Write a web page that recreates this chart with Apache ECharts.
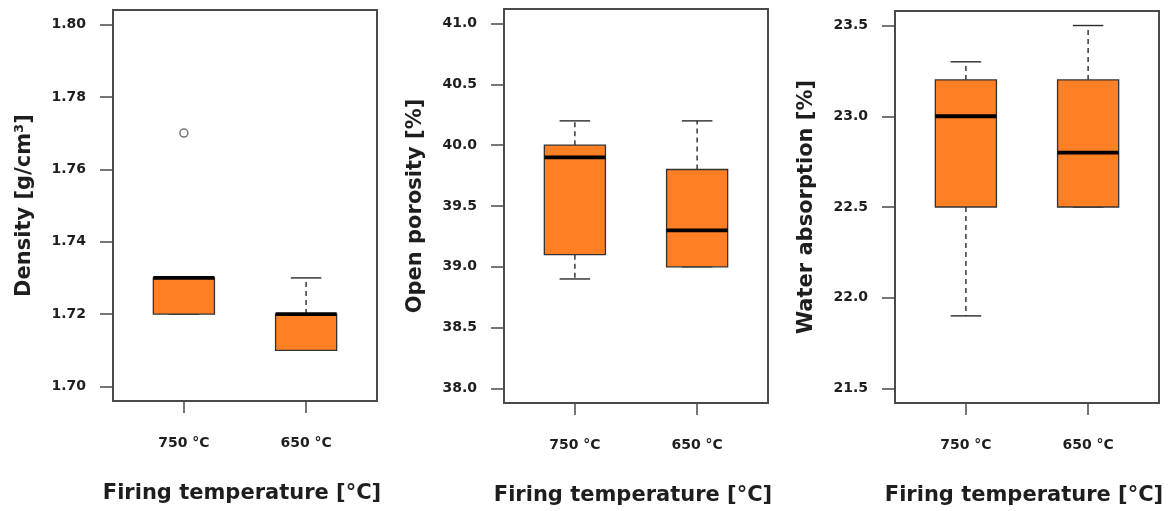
<!DOCTYPE html>
<html lang="en">
<head>
    <meta http-equiv="Content-Type" content="text/html; charset=UTF-8">
    <title>Firing temperature boxplots</title>
    <script src="https://cdn.jsdelivr.net/npm/echarts@6/dist/echarts.min.js"></script>
    <style>
    html, body {
        margin: 0;
        padding: 0;
        background: #fff;
    }
    #chart {
        width: 1176px;
        height: 511px;
    }
    </style>
</head>
<body>
    <div id="chart"></div>
    <script type="text/javascript">
    // categories on the x axis
    var categories = ['750 °C', '650 °C'];

    // box stats per category: [low whisker, Q1, median, Q3, high whisker]
    var densityBoxes = [
        [1.72, 1.72, 1.73, 1.73, 1.73],
        [1.71, 1.71, 1.72, 1.72, 1.73]
    ];
    // outliers: [category index, value]
    var densityOutliers = [[0, 1.77]];

    var porosityBoxes = [
        [38.9, 39.1, 39.9, 40.0, 40.2],
        [39.0, 39.0, 39.3, 39.8, 40.2]
    ];

    var absorptionBoxes = [
        [21.9, 22.5, 23.0, 23.2, 23.3],
        [22.5, 22.5, 22.8, 23.2, 23.5]
    ];

    // y tick labels
    var densityTicks = [1.70, 1.72, 1.74, 1.76, 1.78, 1.80];
    var porosityTicks = [38.0, 38.5, 39.0, 39.5, 40.0, 40.5, 41.0];
    var absorptionTicks = [21.5, 22.0, 22.5, 23.0, 23.5];

    var xTitle = 'Firing temperature [°C]';
    var yTitles = ['Density [g/cm³]', 'Open porosity [%]', 'Water absorption [%]'];

    var FONT = 'DejaVu Sans';
    var TEXT = '#1e1e1e';
    var FRAME = '#4a4a4a';
    var ORANGE = '#ff7f24';
    var BOX_W = 0.5;

    var renderBox = function(params, api) {
        var x = api.value(0);
        var lo = api.coord([x, api.value(1)]);
        var q1 = api.coord([x, api.value(2)]);
        var med = api.coord([x, api.value(3)]);
        var q3 = api.coord([x, api.value(4)]);
        var hi = api.coord([x, api.value(5)]);
        var half = api.size([BOX_W, 0])[0] / 2;
        var cap = half / 2;
        var cx = q1[0];
        var dashStyle = { stroke: '#2a2a2a', lineWidth: 1.4, lineDash: [5, 4] };
        var solid = { stroke: '#2a2a2a', lineWidth: 1.4 };
        return {
            type: 'group',
            children: [
                { type: 'line', shape: { x1: cx, y1: q3[1], x2: cx, y2: hi[1] }, style: dashStyle },
                { type: 'line', shape: { x1: cx, y1: q1[1], x2: cx, y2: lo[1] }, style: dashStyle },
                { type: 'line', shape: { x1: cx - cap, y1: hi[1], x2: cx + cap, y2: hi[1] }, style: solid },
                { type: 'line', shape: { x1: cx - cap, y1: lo[1], x2: cx + cap, y2: lo[1] }, style: solid },
                {
                    type: 'rect',
                    shape: { x: cx - half, y: q3[1], width: half * 2, height: q1[1] - q3[1] },
                    style: { fill: ORANGE, stroke: '#333', lineWidth: 1.3 }
                },
                { type: 'line', shape: { x1: cx - half, y1: med[1], x2: cx + half, y2: med[1] }, style: { stroke: '#000', lineWidth: 3.8 } }
            ]
        };
    };

    var toSeriesData = function(boxes) {
        return boxes.map(function(b, i) {
            return [i + 1].concat(b);
        });
    };

    var grids = [
        { left: 113, top: 10, width: 264, height: 391 },
        { left: 504, top: 9, width: 264, height: 394 },
        { left: 895, top: 11, width: 264, height: 393 }
    ];
    var yRanges = [[1.696, 1.804], [37.88, 41.12], [21.42, 23.58]];
    var yTicks = [densityTicks, porosityTicks, absorptionTicks];
    var yDigits = [2, 1, 1];
    var allBoxes = [densityBoxes, porosityBoxes, absorptionBoxes];

    var option = {
        animation: false,
        backgroundColor: '#fff',
        grid: grids.map(function(g) {
            return {
                left: g.left, top: g.top, width: g.width, height: g.height,
                show: true, borderColor: FRAME, borderWidth: 2, backgroundColor: 'transparent'
            };
        }),
        xAxis: grids.map(function(g, i) {
            return {
                type: 'value',
                gridIndex: i,
                min: 0.42,
                max: 2.58,
                name: xTitle,
                nameLocation: 'middle',
                nameGap: 82,
                nameTextStyle: { fontFamily: FONT, fontWeight: 'bold', fontSize: 21, color: TEXT, padding: [0, 6, 0, 0] },
                axisLine: { show: false },
                splitLine: { show: false },
                axisTick: {
                    show: true, length: 12, customValues: [1, 2],
                    lineStyle: { color: FRAME, width: 1.5 }
                },
                axisLabel: {
                    customValues: [1, 2],
                    margin: 35,
                    fontFamily: FONT, fontWeight: 'bold', fontSize: 14, color: TEXT,
                    formatter: function(v) { return categories[Math.round(v) - 1]; }
                }
            };
        }),
        yAxis: grids.map(function(g, i) {
            return {
                type: 'value',
                gridIndex: i,
                min: yRanges[i][0],
                max: yRanges[i][1],
                name: yTitles[i],
                nameLocation: 'middle',
                nameGap: 78,
                nameTextStyle: { fontFamily: FONT, fontWeight: 'bold', fontSize: 21, color: TEXT },
                axisLine: { show: false },
                splitLine: { show: false },
                axisTick: {
                    show: true, length: 13, customValues: yTicks[i],
                    lineStyle: { color: FRAME, width: 1.5 }
                },
                axisLabel: {
                    customValues: yTicks[i],
                    margin: 27,
                    fontFamily: FONT, fontWeight: 'bold', fontSize: 14, color: TEXT,
                    formatter: (function(d) {
                        return function(v) { return v.toFixed(d); };
                    })(yDigits[i])
                }
            };
        }),
        series: allBoxes.map(function(boxes, i) {
            return {
                type: 'custom',
                xAxisIndex: i,
                yAxisIndex: i,
                renderItem: renderBox,
                encode: { x: 0, y: [1, 2, 3, 4, 5] },
                data: toSeriesData(boxes)
            };
        }).concat([{
            type: 'scatter',
            xAxisIndex: 0,
            yAxisIndex: 0,
            symbol: 'circle',
            symbolSize: 8,
            itemStyle: { color: '#fff', borderColor: '#555', borderWidth: 1.5 },
            data: densityOutliers.map(function(o) { return [o[0] + 1, o[1]]; })
        }])
    };

    var chart = echarts.init(document.getElementById('chart'));
    chart.setOption(option);
    </script>
</body>
</html>
